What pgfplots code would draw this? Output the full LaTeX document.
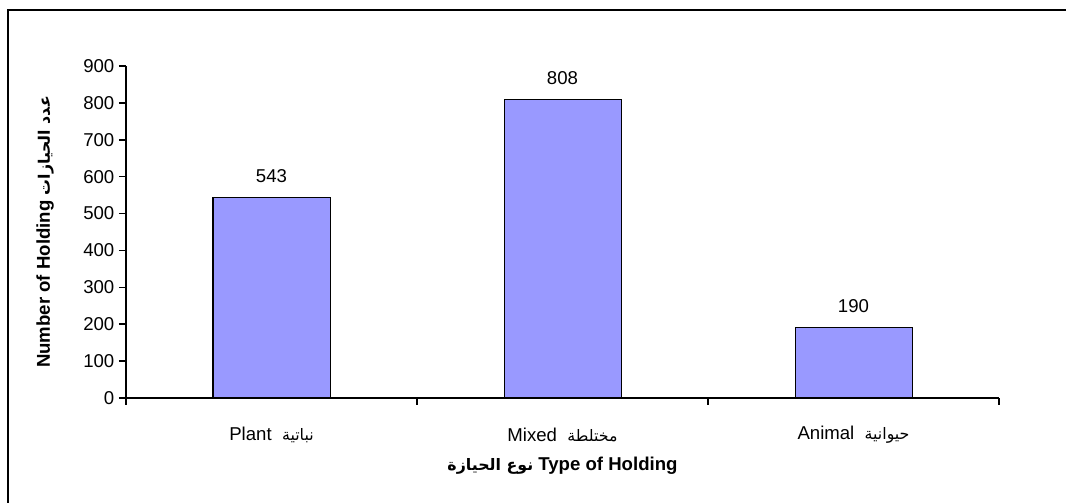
\documentclass[border=0pt]{standalone}
\usepackage{fontspec}
\setmainfont{Liberation Sans}
\newfontfamily\arabicfont[Script=Arabic,Scale=0.85]{DejaVu Sans}
\TeXXeTstate=1
\usepackage{pgfplots}
\pgfplotsset{compat=1.18}
\definecolor{barblue}{HTML}{9999FF}
\begin{document}
\begin{tikzpicture}[x=1pt,y=1pt]
\useasboundingbox (0,0) rectangle (533,251.5);
\draw[line width=0.75pt] (4,0) -- (4,246.5) -- (533,246.5);
\begin{axis}[
  at={(63pt,52.5pt)}, anchor=south west,
  scale only axis, width=436.5pt, height=166pt,
  xmin=-0.5, xmax=2.5, ymin=0, ymax=900,
  ytick={0,100,...,900},
  xtick={0,1,2},
  xticklabels={{Plant\ \ {\arabicfont\beginR نباتية\endR}},{Mixed\ \ {\arabicfont\beginR مختلطة\endR}},{Animal\ \ {\arabicfont\beginR حيوانية\endR}}},
  minor xtick={-0.5,0.5,1.5,2.5},
  axis x line*=bottom, axis y line*=left,
  axis line style={line width=0.75pt},
  tick align=outside,
  major tick length=3.5pt, minor tick length=3.5pt,
  major x tick style={draw=none},
  minor x tick style={black, line width=0.75pt},
  ytick style={black, line width=0.75pt},
  tick label style={font=\fontsize{9.3}{11}\selectfont},
  /pgf/number format/assume math mode=true,
  yticklabel style={xshift=1.2pt},
  xticklabel style={anchor=center, yshift=-15pt},
  xlabel={\bfseries{\arabicfont\beginR نوع الحيازة\endR}\ Type of Holding},
  ylabel={\bfseries Number of Holding\ {\arabicfont\beginR عدد الحيازات\endR}},
  label style={font=\fontsize{9.3}{11}\selectfont},
  xlabel style={at={([yshift=-34pt]axis description cs:0.5,0)}, anchor=center},
  ylabel style={at={([xshift=-40.5pt]axis description cs:0,0.5)}, anchor=center},
  ybar, bar width=58.5pt,
  nodes near coords,
  every node near coord/.append style={font=\fontsize{9.3}{11}\selectfont, yshift=4pt},
]
\addplot[fill=barblue, draw=black, line width=0.5pt] coordinates {(0,543) (1,808) (2,190)};
\end{axis}
\end{tikzpicture}
\end{document}
